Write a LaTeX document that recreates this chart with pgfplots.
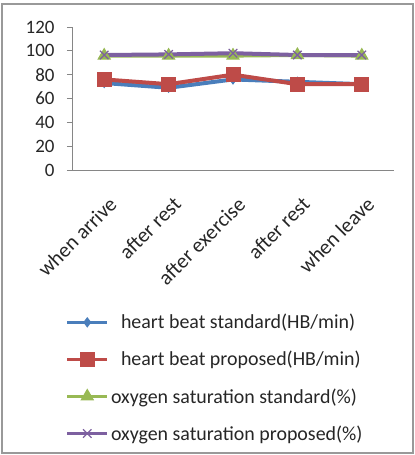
\documentclass[border=0pt]{standalone}
\usepackage{pgfplots}
\pgfplotsset{compat=1.18}
\usepackage{fontspec}
\setmainfont{Carlito}
\definecolor{cblue}{HTML}{4A7EBB}
\definecolor{cred}{HTML}{BE4B48}
\definecolor{cgreen}{HTML}{98B954}
\definecolor{cpurple}{HTML}{7D60A0}
\definecolor{axgray}{HTML}{868686}
\begin{document}
\begin{tikzpicture}
\useasboundingbox (0,0) rectangle (415bp,455bp);
\draw[line width=2bp, draw=gray!80] (2bp,2bp) rectangle (413bp,451bp);
\begin{axis}[
  at={(72bp,285bp)}, anchor=south west,
  scale only axis, width=322bp, height=143bp,
  xmin=0.5, xmax=5.5, ymin=0, ymax=120,
  axis x line*=bottom, axis y line*=left,
  axis line style={draw=axgray, line width=0.8bp, -},
  ytick={0,20,...,120},
  xtick={1,2,3,4,5},
  xticklabels={when arrive,after rest,after exercise,after rest,when leave},
  major x tick style={draw=none},
  extra x ticks={0.5,1.5,2.5,3.5,4.5,5.5},
  extra x tick labels={},
  extra x tick style={major tick length=6bp, tick align=outside, major tick style={draw=axgray, line width=0.8bp}},
  tick align=outside,
  major tick length=5bp,
  tick style={draw=axgray, line width=0.8bp},
  /pgf/number format/assume math mode=true,
  tick label style={font=\fontsize{19}{22}\selectfont, text=black!85},
  yticklabel style={xshift=-9bp},
  xticklabel style={rotate=45, anchor=north east, inner sep=1bp, xshift=-11bp, yshift=-16bp, font=\fontsize{21}{24}\selectfont},
  legend style={at={(axis description cs:-0.03,-0.98)}, anchor=north west, draw=none, fill=none,
    font=\fontsize{20}{23}\selectfont, row sep=17bp, cells={anchor=west}, text=black!85},
  legend cell align=left,
  legend image code/.code={\draw[mark repeat=2,mark phase=2, line width=3.5bp] plot coordinates {(0bp,0bp) (20bp,0bp) (40bp,0bp)};},
]
\addplot[cblue, line width=4bp, mark=diamond*, mark size=4.5bp, mark options={fill=cblue, draw=cblue, line width=1bp}]
  coordinates {(1,73) (2,69) (3,76) (4,74) (5,72)};
\addlegendentry{\hspace{10bp}heart beat standard(HB/min)}
\addplot[cred, line width=4bp, mark=square*, mark size=7bp, mark options={fill=cred, draw=cred, line width=1bp}]
  coordinates {(1,76) (2,72) (3,80) (4,72) (5,72)};
\addlegendentry{\hspace{10bp}heart beat proposed(HB/min)}
\addplot[cgreen, line width=4bp, mark=triangle*, mark size=7bp, mark options={fill=cgreen, draw=cgreen, line width=1bp}]
  coordinates {(1,96) (2,96) (3,96) (4,96.5) (5,96)};
\addlegendentry{oxygen saturation standard(\%)}
\addplot[cpurple, line width=4bp, mark=x, mark size=6bp, mark options={draw=cpurple, line width=1.3bp}]
  coordinates {(1,96.5) (2,97) (3,98) (4,96.5) (5,96.5)};
\addlegendentry{oxygen saturation proposed(\%)}
\end{axis}
\end{tikzpicture}
\end{document}
